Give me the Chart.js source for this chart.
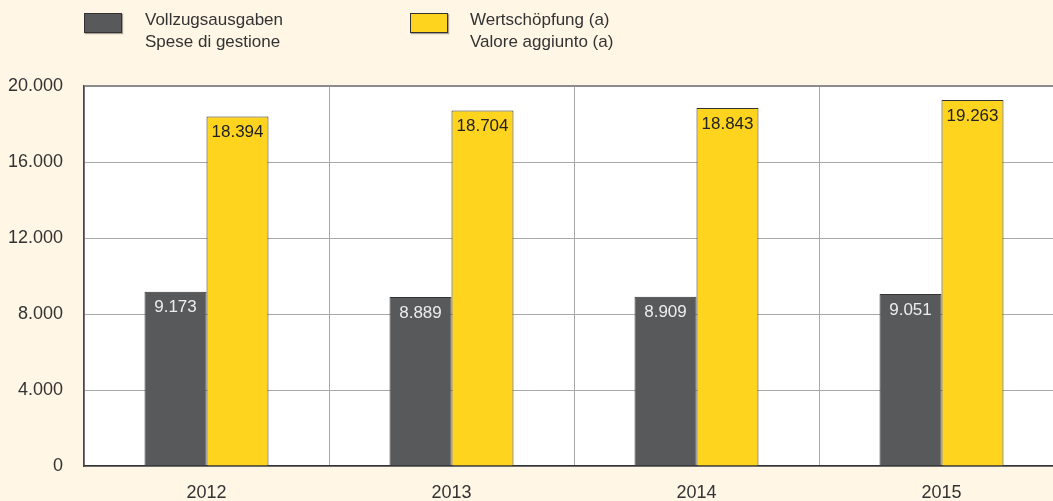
<!DOCTYPE html>
<html>
<head>
<meta charset="utf-8">
<script src="https://cdn.jsdelivr.net/npm/chart.js@4/dist/chart.umd.min.js"></script>
<style>
  html, body { margin: 0; padding: 0; background: #FFF6E6; overflow: hidden; width: 1053px; height: 501px; }
  #wrap { position: relative; width: 1053px; height: 501px; overflow: hidden; }
  canvas { position: absolute; left: 0; top: 0; }
  .lg { position: absolute; font-family: "Liberation Sans", Arial, sans-serif; font-size: 17px; line-height: 22px; color: #333; }
  .box { position: absolute; width: 38px; height: 20px; box-sizing: border-box; border: 1px solid #333; box-shadow: 1px 1px 1px rgba(0,0,0,0.35); }
</style>
</head>
<body>
<div id="wrap">
  <canvas id="c" width="1064" height="501"></canvas>
  <div class="box" style="left:84px; top:13px; background:#58595B;"></div>
  <div class="lg" style="left:145px; top:9px;">Vollzugsausgaben<br>Spese di gestione</div>
  <div class="box" style="left:410px; top:13px; background:#FFD41F;"></div>
  <div class="lg" style="left:470px; top:9px;">Wertschöpfung (a)<br>Valore aggiunto (a)</div>
</div>
<script>
const categories = ['2012', '2013', '2014', '2015'];
const vollzugsausgaben = [9173, 8889, 8909, 9051];
const wertschoepfung = [18394, 18704, 18843, 19263];
const yTicks = [0, 4000, 8000, 12000, 16000, 20000];

function fmt(v) {
  return String(v).replace(/\B(?=(\d{3})+(?!\d))/g, '.');
}

const bgPlugin = {
  id: 'bg',
  beforeDraw(chart) {
    const { ctx, chartArea: a } = chart;
    ctx.save();
    ctx.fillStyle = '#FFFFFF';
    ctx.fillRect(a.left, a.top, a.right - a.left, a.bottom - a.top);
    ctx.restore();
  }
};

const labelPlugin = {
  id: 'labels',
  afterDatasetsDraw(chart) {
    const ctx = chart.ctx;
    ctx.save();
    ctx.font = '17px "Liberation Sans", Arial, sans-serif';
    ctx.textAlign = 'center';
    ctx.textBaseline = 'middle';
    chart.data.datasets.forEach((ds, di) => {
      const meta = chart.getDatasetMeta(di);
      meta.data.forEach((bar, i) => {
        ctx.fillStyle = di === 0 ? '#EDEDED' : '#222222';
        ctx.fillText(fmt(ds.data[i]), bar.x, bar.y + 16);
      });
    });
    ctx.restore();
  }
};

new Chart(document.getElementById('c'), {
  type: 'bar',
  data: {
    labels: categories,
    datasets: [
      { label: 'Vollzugsausgaben / Spese di gestione', data: vollzugsausgaben, backgroundColor: '#58595B', borderColor: '#333333', borderWidth: 1 },
      { label: 'Wertschöpfung (a) / Valore aggiunto (a)', data: wertschoepfung, backgroundColor: '#FFD41F', borderColor: '#333333', borderWidth: 1 }
    ]
  },
  options: {
    responsive: false,
    animation: false,
    layout: { padding: { top: 86, left: 0, right: 0, bottom: 0 } },
    plugins: { legend: { display: false }, tooltip: { enabled: false } },
    datasets: { bar: { barPercentage: 1.0, categoryPercentage: 0.506 } },
    scales: {
      x: {
        grid: { offset: true, color: '#A8A8A8', lineWidth: 1, drawTicks: false },
        border: { color: '#333333', width: 1.5 },
        ticks: { color: '#333333', padding: 16, font: { family: '"Liberation Sans", Arial, sans-serif', size: 18 } },
        afterFit(s) { s.height = 35; }
      },
      y: {
        min: 0, max: 20000,
        afterBuildTicks(s) { s.ticks = yTicks.map(v => ({ value: v })); },
        grid: {
          drawTicks: false,
          color: (c) => (c.tick && c.tick.value === 20000) ? '#8C8C8C' : '#A8A8A8',
          lineWidth: (c) => (c.tick && c.tick.value === 20000) ? 2 : 1
        },
        border: { color: '#444444', width: 1.5 },
        ticks: { color: '#333333', padding: 21, callback: (v) => fmt(v), font: { family: '"Liberation Sans", Arial, sans-serif', size: 18 } },
        afterFit(s) { s.width = 84; }
      }
    }
  },
  plugins: [bgPlugin, labelPlugin]
});
</script>
</body>
</html>
